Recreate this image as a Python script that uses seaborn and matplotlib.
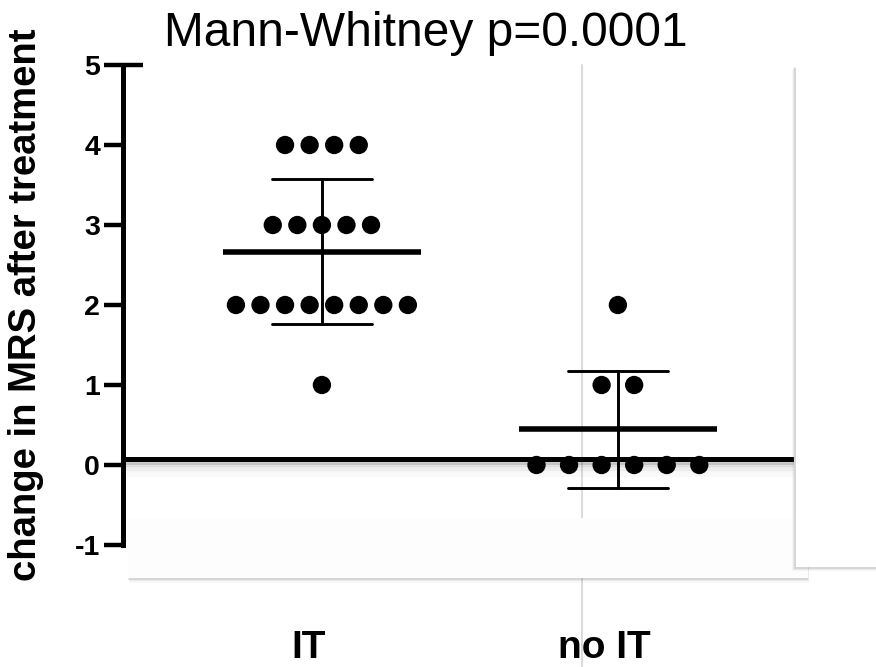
import numpy as np
import pandas as pd
import matplotlib
matplotlib.use("Agg")
import matplotlib.pyplot as plt
import matplotlib.patheffects as pe
from matplotlib.patches import Rectangle
from matplotlib.lines import Line2D
import seaborn as sns

# ---------------- data ----------------
groups = ["IT", "no IT"]
it_scores = [4, 4, 4, 4, 3, 3, 3, 3, 3, 2, 2, 2, 2, 2, 2, 2, 2, 1]
no_it_scores = [2, 1, 1, 0, 0, 0, 0, 0, 0]
y_ticks = [-1, 0, 1, 2, 3, 4, 5]
title_text = "Mann-Whitney p=0.0001"
y_label = "change in MRS after treatment"

# ---------------- style ----------------
sns.set_theme(style="white")
plt.rcParams["font.family"] = ["Liberation Sans", "DejaVu Sans"]

W, H, DPI = 876, 667, 100
fig = plt.figure(figsize=(W / DPI, H / DPI), dpi=DPI)
fig.patch.set_facecolor("white")
ax_l, ax_r, ax_t, ax_b = 123, 794, 65, 545
ax = fig.add_axes([ax_l / W, (H - ax_b) / H, (ax_r - ax_l) / W, (ax_b - ax_t) / H])
ax.patch.set_visible(False)

df = pd.DataFrame({
    "group": [groups[0]] * len(it_scores) + [groups[1]] * len(no_it_scores),
    "score": it_scores + no_it_scores,
})
# centred horizontal spread of tied values (GraphPad-like scatter)
spread = {"IT": 0.083, "no IT": 0.110}
df["gi"] = df["group"].map({g: i for i, g in enumerate(groups)})
df["rank"] = df.groupby(["group", "score"]).cumcount()
df["n"] = df.groupby(["group", "score"])["score"].transform("size")
df["xpos"] = df["gi"] + (df["rank"] - (df["n"] - 1) / 2) * df["group"].map(spread)

# mean +/- SD
sns.pointplot(data=df, x="group", y="score", order=groups, estimator="mean",
              errorbar="sd", capsize=0.34, color="black", marker="_",
              markersize=142, markeredgewidth=4, linestyle="none",
              err_kws={"linewidth": 2.1}, ax=ax, zorder=5)

# individual points
sns.scatterplot(data=df, x="xpos", y="score", color="black", s=174,
                edgecolor="none", linewidth=0, ax=ax, zorder=4, legend=False)

# reference line near zero with soft shadow
ax.axhline(0.07, color="black", lw=3.6, zorder=2, solid_capstyle="butt",
           path_effects=[
               pe.SimpleLineShadow(offset=(0, -8), alpha=0.025, shadow_color="k", linewidth=8),
               pe.SimpleLineShadow(offset=(0, -5.5), alpha=0.05, shadow_color="k", linewidth=6),
               pe.SimpleLineShadow(offset=(0, -3.5), alpha=0.08, shadow_color="k", linewidth=4.5),
               pe.SimpleLineShadow(offset=(0, -2), alpha=0.15, shadow_color="k", linewidth=3.6),
               pe.Normal()])

ax.set_xlim(-0.672, 1.595)
ax.set_ylim(y_ticks[0], y_ticks[-1])
ax.set_yticks(y_ticks)
ax.set_yticklabels([str(t) for t in y_ticks])
ax.set_xticks([i - 0.045 for i in range(len(groups))])
ax.set_xticklabels(groups)
ax.set_xlabel("")

sns.despine(ax=ax, top=True, right=True, bottom=True)
ax.spines["left"].set_linewidth(3.6)
ax.spines["left"].set_color("black")
ax.tick_params(axis="y", which="major", left=True, length=13.5, width=3.2,
               color="black", pad=3.0, labelsize=20.5, direction="out")
ax.tick_params(axis="x", length=0, pad=61, labelsize=28)
for lab in ax.get_yticklabels() + ax.get_xticklabels():
    lab.set_fontweight("bold")
    lab.set_color("black")
# GraphPad-style cap extending right at top of axis
ax.axhline(y_ticks[-1], xmin=0, xmax=20 / (ax_r - ax_l), color="black", lw=3.2,
           clip_on=False, solid_capstyle="butt")

ax.set_ylabel(y_label, fontsize=27.5, fontweight="bold", color="black")
ax.yaxis.set_label_coords(-0.117, 0.5)
ax.set_title(title_text, fontsize=34.5, fontweight="normal", color="black",
             x=(426 - ax_l) / (ax_r - ax_l), pad=13.7)

# ---------------- overlay artefacts of the source image ----------------
fig.add_artist(Line2D([582 / W, 582 / W], [(H - 65) / H, 0], color="#dadada", lw=1.4,
                      transform=fig.transFigure, zorder=-1))

def soft_shadow(dx, dy):
    return [pe.SimplePatchShadow(offset=(dx * 1.6, dy * 1.6), shadow_rgbFace="0.5", alpha=0.06),
            pe.SimplePatchShadow(offset=(dx * 1.1, dy * 1.1), shadow_rgbFace="0.5", alpha=0.10),
            pe.SimplePatchShadow(offset=(dx * 0.6, dy * 0.6), shadow_rgbFace="0.45", alpha=0.16),
            pe.Normal()]

box = Rectangle((128 / W, (H - 578) / H), 680 / W, 60 / H, transform=fig.transFigure,
                facecolor="#fdfdfd", edgecolor="none", zorder=2,
                path_effects=soft_shadow(0.4, -2.2))
fig.add_artist(box)
panel = Rectangle((796 / W, (H - 567) / H), (W - 796) / W + 0.02, (567 - 65) / H,
                  transform=fig.transFigure, facecolor="white", edgecolor="none", zorder=3,
                  path_effects=soft_shadow(-2.0, -2.0))
fig.add_artist(panel)

fig.savefig("out.png", dpi=DPI)
